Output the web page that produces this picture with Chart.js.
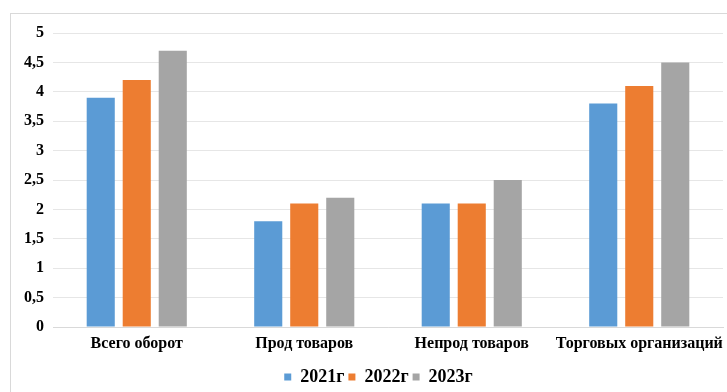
<!DOCTYPE html>
<html><head><meta charset="utf-8">
<script src="https://cdn.jsdelivr.net/npm/chart.js@4"></script>
<style>
html,body{margin:0;padding:0;background:#fff;overflow:hidden}
#frame{position:absolute;left:10px;top:13px;width:740px;height:400px;border:1px solid #d9d9d9;box-sizing:border-box}
#wrap{position:absolute;left:0;top:0;width:727px;height:392px}
</style></head><body>
<div id="frame"></div>
<div id="wrap"><canvas id="c" width="727" height="392"></canvas></div>
<script>
const categories = ["Всего оборот", "Прод товаров", "Непрод товаров", "Торговых организаций"];
const seriesNames = ["2021г", "2022г", "2023г"];
const values2021 = [3.9, 1.8, 2.1, 3.8];
const values2022 = [4.2, 2.1, 2.1, 4.1];
const values2023 = [4.7, 2.2, 2.5, 4.5];
const colors = ["#5B9BD5", "#ED7D31", "#A5A5A5"];

const family = "'Liberation Serif', 'Times New Roman', serif";
const font = {family, size: 16, weight: "bold"};
const legendFont = {family, size: 18, weight: "bold"};
const mk = (i, data) => ({label: seriesNames[i], data, backgroundColor: colors[i], borderWidth: 0,
  categoryPercentage: 0.645, barPercentage: 0.78});

const legendShift = {
  id: "legendShift",
  afterLayout(chart) { const l = chart.legend; if (l) { l.left += 17; l.right += 17; } }
};

new Chart(document.getElementById("c"), {
  type: "bar",
  data: {labels: categories, datasets: [mk(0, values2021), mk(1, values2022), mk(2, values2023)]},
  plugins: [legendShift],
  options: {
    responsive: false, animation: false,
    layout: {padding: {top: 33, right: 4, left: 0, bottom: -4}},
    plugins: {
      tooltip: {enabled: false},
      legend: {position: "bottom", labels: {font: legendFont, color: "#000", boxWidth: 7, boxHeight: 7, padding: 4}}
    },
    scales: {
      x: {grid: {display: false}, border: {display: true, color: "#d9d9d9"},
          ticks: {font, color: "#000", padding: -1, maxRotation: 0, autoSkip: false},
          afterFit: s => { s.height = 37; s.paddingLeft = 0; s.paddingRight = 0; }},
      y: {min: 0, max: 5, grid: {color: "#e6e6e6", drawTicks: false}, border: {display: false},
          ticks: {stepSize: 0.5, font, color: "#000", padding: 9,
            callback: v => String(v).replace(".", ",")},
          afterFit: s => { s.width = 53; }}
    }
  }
});
</script>
</body></html>
